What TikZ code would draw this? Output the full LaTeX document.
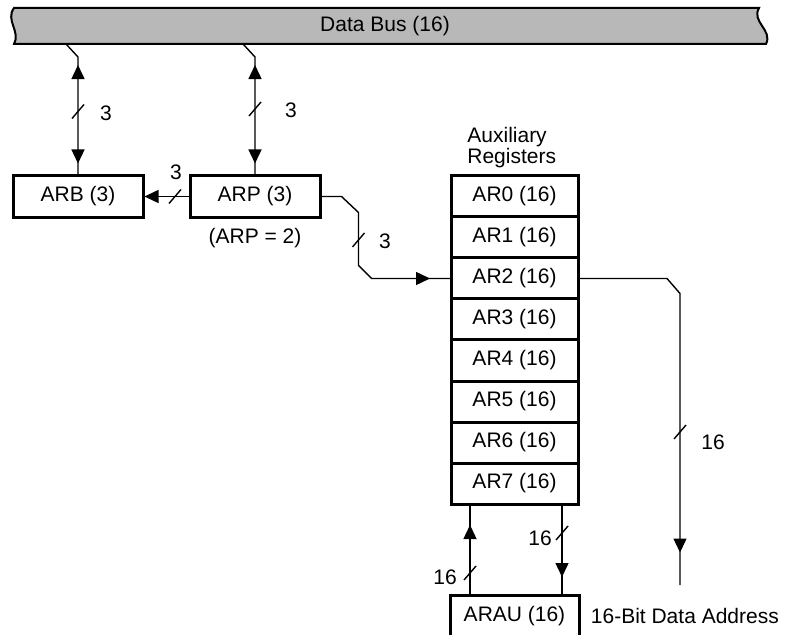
\documentclass[tikz,border=0pt]{standalone}
\usepackage{fontspec}
\setmainfont{Liberation Sans}
\usetikzlibrary{arrows.meta,positioning,calc,decorations.markings}
\definecolor{busgray}{HTML}{B8B8B8}

\tikzset{
  regbox/.style={draw, line width=1.5pt, minimum width=65pt, minimum height=21pt, inner sep=0pt},
  regrow/.style={regbox, minimum width=63.5pt, minimum height=20.5pt, outer sep=0pt},
  lbl/.style={inner sep=1pt},
  conn/.style={line width=0.7pt},
  fwdtip/.style={postaction={decorate, decoration={markings,
      mark=at position #1 with {\arrow{Triangle[length=7pt,width=6.5pt]}}}}},
  revtip/.style={postaction={decorate, decoration={markings,
      mark=at position #1 with {\arrowreversed{Triangle[length=7pt,width=6.5pt]}}}}},
  slashat/.style={postaction={decorate, decoration={markings,
      mark=at position #1 with {\pgftransformresetnontranslations
        \draw[-, line width=0.7pt] (-3pt,-3.5pt) -- (3pt,3.5pt);}}}}
}

\begin{document}
\begin{tikzpicture}[x=0.5pt, y=-0.5pt, font=\fontsize{10.5}{10.5}\selectfont]
\useasboundingbox (0,0) rectangle (785,635);

% data bus
\draw[line width=1pt, fill=busgray] (14,8) -- (759,8)
  .. controls (751,22) and (773,30) .. (766,44) -- (14,44)
  .. controls (21,32) and (5,20) .. cycle;
\node (bus) at (385,26) {Data Bus (16)};
\coordinate (tapb) at (66,44);
\coordinate (tapp) at (243,44);

% pointer registers
\node[regbox] (arb) at (78,196.5) {ARB (3)};
\node[regbox, right=22pt of arb] (arp) {ARP (3)};
\node[lbl, below=3.5pt of arp] (arpval) {(ARP = 2)};

% auxiliary register file
\node[regrow] (ar0) at (514.5,196.5) {AR0 (16)};
\foreach \i [evaluate=\i as \j using int(\i-1)] in {1,...,7}
  \node[regrow, below=0pt of ar\j] (ar\i) {AR\i{} (16)};
\node[lbl, align=left, anchor=south west] (auxlbl)
  at ([xshift=7pt, yshift=3pt]ar0.north west) {Auxiliary\\Registers};

\node[regbox, minimum width=64.5pt, below=44.75pt of ar7] (arau) {ARAU (16)};
\node[lbl, right=4pt of arau] (addr) {16-Bit Data Address};
\coordinate (addrend) at (680,585);

% connections
\draw[conn, revtip=12.85pt, fwdtip=-5.25pt, slashat=-31.25pt]
  (tapb) -- ++(12,13) -- (arb.north);
\draw[conn, revtip=12.85pt, fwdtip=-5.25pt, slashat=-32.5pt]
  (tapp) -- ++(12,13) -- (arp.north);
\draw[conn, -{Triangle[length=7pt,width=6.5pt]}, slashat=6.75pt]
  (arp.west) -- (arb.east);
\draw[conn, fwdtip=-10.5pt, slashat=35.4pt]
  (arp.east) -- ++(20,0) -- ++(17,16) -- ($(ar2.west)+(-92.5,-13)$)
  -- ($(ar2.west)+(-79.5,0)$) -- (ar2.west);
\draw[conn, fwdtip=-16.25pt, slashat=-76.5pt]
  (ar2.east) -- ++(89,0) -- ++(13,15) -- (addrend);
\draw[conn, fwdtip=-10.5pt, slashat=10.25pt]
  ($(arau.north)+(-44.5,0)$) -- ($(ar7.south)+(-44.5,0)$);
\draw[conn, fwdtip=-8.25pt, slashat=14.5pt]
  ($(ar7.south)+(47.5,0)$) -- ($(arau.north)+(47.5,0)$);

% bus widths
\node[lbl] (wb) at (106,113) {3};
\node[lbl] (wp) at (291,110) {3};
\node[lbl] (wpb) at (176,172) {3};
\node[lbl] (wpa) at (385,241) {3};
\node[lbl] (wout) at (713,442) {16};
\node[lbl] (wup) at (445,577) {16};
\node[lbl] (wdn) at (540,538) {16};
\end{tikzpicture}
\end{document}
